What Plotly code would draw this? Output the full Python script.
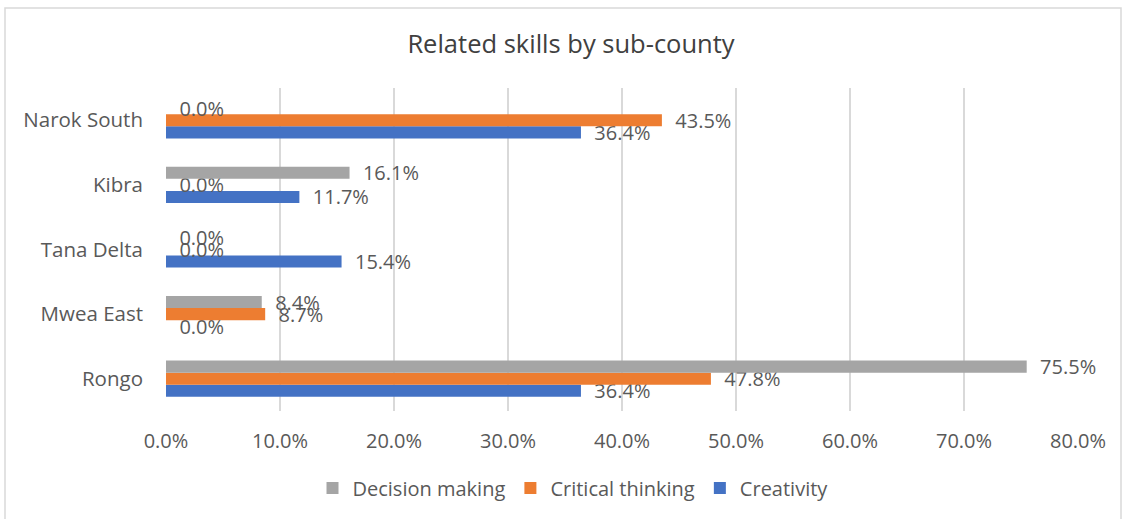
import plotly.graph_objects as go

# Sub-counties, listed bottom to top as they appear on the category axis
counties = ["Rongo", "Mwea East", "Tana Delta", "Kibra", "Narok South"]

# Share of respondents (%) per related skill
creativity = [36.4, 0.0, 15.4, 11.7, 36.4]
critical_thinking = [47.8, 8.7, 0.0, 0.0, 43.5]
decision_making = [75.5, 8.4, 0.0, 16.1, 0.0]

x_ticks = [0, 10, 20, 30, 40, 50, 60, 70, 80]
x_tick_labels = [f"{v:.1f}%" for v in x_ticks]

FONT = "Open Sans"
TEXT = "#595959"

W, H = 1128, 519
ML, MR, MT, MB = 166, 50, 88, 108
PW, PH = W - ML - MR, H - MT - MB

series = [
    ("Creativity", creativity, "#4472C4"),
    ("Critical thinking", critical_thinking, "#ED7D31"),
    ("Decision making", decision_making, "#A5A5A5"),
]

fig = go.Figure()
for name, vals, color in series:
    fig.add_trace(go.Bar(
        y=counties, x=vals, name=name, orientation="h",
        marker=dict(color=color, line=dict(width=0)),
        text=[f"  {v:.1f}%" for v in vals],
        textposition="outside",
        textfont=dict(family=FONT, size=20, color=TEXT),
        constraintext="none",
        cliponaxis=False,
    ))

# light outer frame around the chart area
def px_x(px):
    return (px - ML) / PW

def px_y(py):
    return (H - MB - py) / PH

fig.add_shape(type="rect", xref="paper", yref="paper",
              x0=px_x(5), x1=px_x(1121), y0=px_y(8), y1=px_y(530),
              line=dict(color="#D9D9D9", width=1.5), fillcolor="rgba(0,0,0,0)",
              layer="below")

fig.update_layout(
    width=W, height=H,
    margin=dict(l=ML, r=MR, t=MT, b=MB),
    paper_bgcolor="white", plot_bgcolor="white",
    barmode="group", bargap=0.44, bargroupgap=0,
    title=dict(text="Related skills by sub-county", x=px_x(571), xref="paper",
               xanchor="center", y=1 - 44 / H, yanchor="middle",
               font=dict(family=FONT, size=25.5, color="#404040")),
    xaxis=dict(range=[0, 80], tickmode="array", tickvals=x_ticks, ticktext=x_tick_labels,
               showgrid=True, gridcolor="#D9D9D9", gridwidth=2, zeroline=False,
               showline=False, tickfont=dict(family=FONT, size=20, color=TEXT),
               ticks="", ticklabelstandoff=16),
    yaxis=dict(categoryorder="array", categoryarray=counties,
               showgrid=False, zeroline=False, showline=False, ticks="",
               tickfont=dict(family=FONT, size=20.5, color=TEXT),
               ticklabelstandoff=22),
    legend=dict(orientation="h", traceorder="reversed", x=px_x(573), xanchor="center",
                y=px_y(488), yanchor="middle",
                font=dict(family=FONT, size=20, color=TEXT),
                itemwidth=30),
    showlegend=True,
)

fig.write_html("out.html")
